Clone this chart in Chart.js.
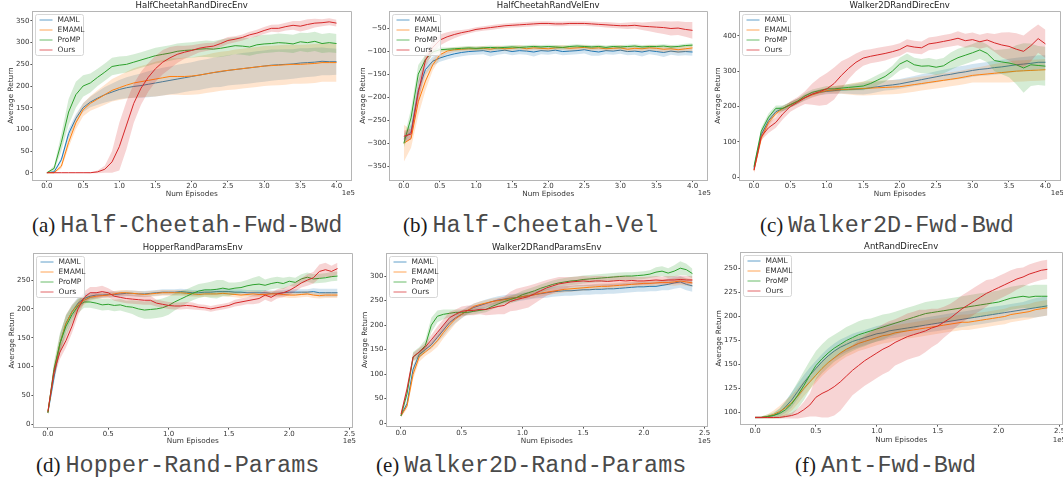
<!DOCTYPE html>
<html>
<head>
<meta charset="utf-8">
<script src="https://cdn.jsdelivr.net/npm/chart.js@4.4.1/dist/chart.umd.min.js"></script>
<style>
  html, body { margin: 0; padding: 0; background: #fff; width: 1063px; height: 486px; overflow: hidden; position: relative; }
  canvas { position: absolute; }
  .cap { position: absolute; white-space: nowrap; line-height: 28px; height: 28px; color: #1a1a1a; }
  .cap .lbl { font-family: "Liberation Serif", serif; font-size: 21px; margin-right: 5px; }
  .cap .mono { font-family: "Liberation Mono", monospace; font-size: 23.5px; color: #4a4a4a; }
</style>
</head>
<body>
<script>
// shared axes
const XA = [0.0,0.1,0.2,0.3,0.4,0.5,0.6,0.7,0.8,0.9,1.0,1.1,1.2,1.3,1.4,1.5,1.6,1.7,1.8,1.9,2.0,2.1,2.2,2.3,2.4,2.5,2.6,2.7,2.8,2.9,3.0,3.1,3.2,3.3,3.4,3.5,3.6,3.7,3.8,3.9,4.0];
const XB = [0.00,0.05,0.10,0.15,0.20,0.25,0.30,0.35,0.40,0.45,0.50,0.55,0.60,0.65,0.70,0.75,0.80,0.85,0.90,0.95,1.00,1.05,1.10,1.15,1.20,1.25,1.30,1.35,1.40,1.45,1.50,1.55,1.60,1.65,1.70,1.75,1.80,1.85,1.90,1.95,2.00,2.05,2.10,2.15,2.20,2.25,2.30,2.35,2.40];
const XTICKS_A = [0,0.5,1,1.5,2,2.5,3,3.5,4];
const XTICKS_B = [0,0.5,1,1.5,2,2.5];
const SERIES = ["MAML", "EMAML", "ProMP", "Ours"];

// (a) HalfCheetahRandDirecEnv
const aMaml    = [0,2,30,90,125,150,163,172,180,186, 192,196,199,201,204,207,210,213,216,219, 222,225,228,231,233,236,238,240,242,244, 246,248,249,250,251,253,254,255,257,256, 256];
const aMamlSd  = [0,2,6,10,10,10,12,15,18,20, 22,24,26,28,30,31,32,32,33,33, 33,34,34,34,35,35,35,36,36,36, 36,36,35,35,34,34,33,33,32,31, 30];
const aEmaml   = [0,0,15,70,115,145,160,170,180,190, 196,202,207,210,213,216,219,222,222,222, 223,225,228,231,234,236,238,240,242,244, 246,247,248,249,250,250,251,252,254,254, 254];
const aEmamlSd = [0,1,6,12,15,15,17,20,23,26, 28,31,34,36,38,40,41,42,42,43, 43,44,44,45,45,45,46,46,46,46, 46,46,46,46,45,45,45,45,44,44, 44];
const aPromp   = [0,10,70,140,180,200,207,220,232,245, 248,250,255,260,265,270,273,276,280,282, 283,285,286,285,287,290,293,292,290,295, 297,298,300,299,297,302,300,303,298,300, 298];
const aPrompSd = [0,6,20,30,30,25,22,20,20,20, 20,19,18,18,18,18,18,18,18,18, 18,18,19,19,20,20,20,20,20,21, 21,21,21,21,21,21,22,22,22,22, 22];
const aOurs    = [0,0,0,0,0,0,0,2,8,25, 60,110,160,195,220,240,255,265,273,278, 282,287,290,292,298,305,308,312,318,322, 328,333,333,337,340,338,342,345,346,348, 345];
const aOursSd  = [0,0,0,0,0,0,1,3,8,25, 55,55,45,38,33,30,28,25,20,15, 12,10,9,8,8,8,7,7,7,8, 8,8,9,9,10,12,12,10,8,8, 8];

// (b) HalfCheetahRandVelEnv
const bMaml    = [-290,-275,-185,-140,-122,-115,-110,-106,-103,-101, -100,-99,-102,-100,-98,-101,-99,-100,-102,-99, -100,-98,-101,-100,-99,-97,-100,-102,-99,-100, -98,-101,-100,-102,-99,-101,-103,-100,-102,-101, -102];
const bMamlSd  = [10,15,20,12,10,8,8,8,8,8, 8,8,10,8,8,8,8,8,10,8, 8,8,8,8,8,8,10,8,8,8, 8,8,8,10,8,8,10,8,8,8, 8];
const bEmaml   = [-300,-290,-210,-165,-130,-108,-100,-97,-96,-95, -95,-94,-96,-93,-95,-94,-92,-95,-93,-94, -95,-93,-92,-94,-93,-92,-94,-93,-95,-94, -93,-96,-94,-95,-93,-94,-96,-95,-97,-95, -93];
const bEmamlSd = [40,20,30,20,12,8,6,5,5,5, 5,5,5,5,5,5,5,5,5,5, 5,5,5,5,5,5,5,5,5,5, 6,6,6,6,6,6,7,7,7,7, 7];
const bPromp   = [-300,-245,-150,-118,-102,-97,-96,-95,-94,-93, -94,-93,-92,-93,-92,-91,-92,-91,-90,-91, -90,-91,-92,-90,-89,-90,-91,-90,-92,-90, -91,-90,-89,-91,-90,-90,-89,-91,-90,-88, -87];
const bPrompSd = [10,20,20,10,6,5,4,4,4,4, 4,4,4,4,4,4,4,4,4,4, 4,4,4,4,4,4,4,4,4,4, 4,4,4,4,4,4,4,4,4,4, 4];
const bOurs    = [-285,-280,-190,-120,-92,-76,-69,-64,-60,-57, -53,-51,-49,-47,-45,-44,-43,-42,-41,-40, -40,-41,-41,-40,-40,-40,-41,-42,-43,-44, -45,-45,-44,-46,-47,-48,-49,-51,-50,-53, -55];
const bOursSd  = [12,12,25,15,12,12,10,8,6,5, 5,5,5,5,5,5,5,5,5,5, 5,5,5,5,5,5,5,5,6,6, 6,7,7,8,10,12,14,15,15,16, 18];

// (c) Walker2DRandDirecEnv
const cMaml    = [25,120,160,185,195,205,215,225,235,240, 243,245,247,248,249,250,253,256,259,261, 264,268,272,276,280,284,288,291,295,298, 302,305,307,310,312,315,318,320,322,325, 325];
const cMamlSd  = [8,10,10,8,8,8,8,8,8,8, 8,9,10,12,14,16,16,15,14,14, 14,14,14,15,15,16,16,17,18,18, 18,18,19,20,20,20,20,20,20,20, 20];
const cEmaml   = [20,110,155,180,195,205,215,225,233,240, 245,247,248,249,250,251,252,253,254,255, 256,259,262,265,268,271,274,277,280,284, 288,290,292,294,296,298,300,301,302,303, 304];
const cEmamlSd = [8,10,10,8,8,8,8,8,8,8, 8,10,12,15,18,20,20,20,20,20, 20,20,20,20,20,20,20,20,20,20, 20,22,24,26,28,30,30,30,30,30, 30];
const cPromp   = [30,130,170,195,195,205,215,230,240,245, 250,250,252,254,256,258,265,275,285,300, 320,330,318,314,315,311,315,328,338,345, 352,360,350,330,326,323,318,309,318,316, 314];
const cPrompSd = [8,10,10,8,8,8,8,8,8,8, 8,8,8,10,10,12,14,15,15,15, 18,20,20,20,22,22,22,25,25,25, 25,25,25,30,35,40,55,70,60,55, 55];
const cOurs    = [20,115,140,155,180,200,212,225,235,242, 250,265,288,308,325,337,342,346,350,355, 361,372,368,366,377,380,384,388,393,386, 389,383,388,380,374,370,362,356,372,392, 377];
const cOursSd  = [8,10,15,15,15,15,15,18,30,40, 45,45,40,30,25,22,20,20,20,18, 18,18,18,18,18,18,18,18,20,20, 20,20,20,25,35,40,45,45,45,40, 40];

// (d) HopperRandParamsEnv
const dMaml    = [20,80,140,175,195,210,218,222,224,224, 225,225,226,227,227,226,226,227,228,229, 229,229,230,229,228,228,229,229,230,230, 230,229,229,228,228,228,228,227,227,228, 229,229,229,229,230,228,228,228,228];
const dMamlSd  = [5,10,15,15,12,10,8,6,5,5, 5,5,5,5,5,5,5,5,5,5, 5,5,5,5,5,5,5,5,5,5, 5,5,5,5,5,5,5,5,5,5, 5,5,5,5,6,7,7,7,7];
const dEmaml   = [20,90,140,175,195,208,215,220,222,223, 224,226,228,228,227,226,225,226,227,228, 228,228,228,227,226,225,226,226,226,227, 226,225,224,225,226,225,225,226,226,225, 224,224,225,226,224,223,224,224,224];
const dEmamlSd = [5,12,15,15,12,10,8,6,5,5, 5,5,5,5,5,5,5,5,5,5, 5,5,5,5,5,5,5,5,5,5, 5,5,5,5,5,5,5,5,5,5, 5,5,5,5,5,5,5,5,5];
const dPromp   = [20,95,140,170,190,205,212,212,210,207, 208,206,207,204,203,200,198,199,200,202, 206,212,217,222,227,231,233,233,234,236, 234,236,237,240,242,243,241,244,246,244, 248,246,252,255,252,253,254,256,257];
const dPrompSd = [5,12,18,18,15,12,10,10,10,10, 10,10,10,10,12,14,15,16,16,16, 16,15,14,12,12,12,12,14,16,14, 12,10,10,10,12,14,10,10,10,10, 8,8,8,8,8,8,8,8,8];
const dOurs    = [22,90,125,145,170,200,220,228,228,230, 228,222,220,218,217,216,215,215,210,208, 206,205,205,206,205,203,202,200,202,204, 206,210,212,214,216,218,224,220,226,228, 232,238,245,250,254,265,268,265,270];
const dOursSd  = [5,10,12,12,12,12,10,10,10,10, 8,8,8,8,8,8,8,8,6,6, 6,6,6,6,6,5,5,5,5,5, 5,6,6,6,8,8,8,8,8,8, 8,8,8,10,10,12,12,10,10];

// (e) Walker2DRandParamsEnv
const eMaml    = [15,40,110,140,150,160,175,190,205,215, 222,230,236,240,244,248,251,253,255,256, 258,260,262,264,266,268,269,270,270,271, 272,272,273,273,274,274,275,276,277,278, 278,279,279,281,283,286,288,283,280];
const eMamlSd  = [3,6,8,8,6,8,10,12,12,10, 8,8,8,8,8,8,8,8,8,8, 8,8,8,9,10,10,10,10,10,10, 10,10,10,10,10,10,10,10,10,10, 10,10,10,10,12,12,12,12,12];
const eEmaml   = [15,35,100,135,145,155,168,185,200,213, 222,230,238,242,245,248,250,252,254,256, 258,260,262,265,267,269,271,273,274,275, 276,277,278,279,279,280,281,282,283,284, 285,285,286,287,287,288,290,288,286];
const eEmamlSd = [3,6,10,10,8,10,12,12,12,10, 8,6,6,6,6,6,6,6,6,6, 6,6,6,6,6,6,6,6,6,6, 6,6,6,6,6,6,6,6,6,6, 6,6,6,6,6,8,8,8,8];
const ePromp   = [15,60,135,145,158,200,218,222,224,226, 226,226,228,230,232,238,243,248,252,256, 262,266,270,275,279,283,286,288,290,291, 293,294,295,296,297,298,299,300,300,301, 302,304,308,310,306,310,316,313,305];
const ePrompSd = [3,8,10,10,12,15,12,10,8,6, 6,6,6,6,6,6,6,6,8,8, 8,8,8,8,8,8,8,8,8,8, 8,8,8,8,8,8,8,8,8,8, 8,8,10,10,10,12,14,12,10];
const eOurs    = [18,70,135,145,155,170,185,200,215,222, 228,230,230,232,232,235,238,240,248,252, 255,258,264,270,276,280,284,286,288,289, 290,289,290,290,289,290,291,290,291,290, 290,291,292,291,292,292,293,292,292];
const eOursSd  = [3,8,8,8,8,10,12,12,12,10, 10,10,10,10,12,14,16,18,20,22, 22,22,20,18,16,15,14,12,10,10, 10,10,10,10,10,10,10,10,8,8, 8,8,8,8,8,8,8,8,8];

// (f) AntRandDirecEnv
const fMaml    = [95,95,96,97,100,106,113,122,131,139, 146,153,159,164,168,171,174,176,178,180, 182,183,185,186,187,188,189,190,191,192, 193,194,195,196,197,198,199,200,201,202, 203,204,205,206,207,208,209,210,211];
const fMamlSd  = [1,1,1,2,4,6,8,8,8,8, 8,8,8,8,8,8,8,8,8,8, 8,8,8,8,8,8,8,8,8,8, 8,8,8,8,8,8,8,8,8,8, 8,8,8,8,8,9,10,10,10];
const fEmaml   = [95,95,96,98,101,105,110,117,125,132, 139,146,152,157,162,166,169,172,174,176, 178,180,181,183,184,185,186,187,188,189, 190,191,192,193,194,194,195,196,197,198, 199,200,202,203,204,205,207,208,209];
const fEmamlSd = [1,1,2,4,6,8,8,8,8,8, 8,8,8,8,8,8,8,8,8,8, 8,8,8,8,8,8,8,8,8,8, 8,8,8,8,8,8,8,8,8,8, 8,8,8,8,8,8,8,8,8];
const fPromp   = [95,95,96,97,99,103,109,118,128,139, 149,156,162,167,171,175,178,181,183,185, 187,189,191,193,195,197,199,201,203,204, 205,206,207,208,209,210,211,212,213,214, 215,217,219,220,221,220,221,221,221];
const fPrompSd = [1,1,2,3,5,8,12,14,15,15, 15,15,15,14,14,14,14,14,14,13, 13,13,12,12,12,12,12,12,12,12, 12,12,12,12,12,12,12,12,12,12, 12,12,12,12,12,12,12,12,12];
const fOurs    = [95,95,95,95,95,96,97,99,103,108, 116,120,123,127,132,138,144,149,154,158, 162,166,169,173,176,179,181,183,185,188, 190,194,198,203,208,212,216,220,224,227, 230,233,236,239,241,244,246,248,249];
const fOursSd  = [1,1,1,1,1,2,3,5,8,12, 20,25,28,30,30,28,26,26,26,26, 26,26,26,24,24,24,24,24,22,20, 18,16,15,14,14,14,14,14,14,12, 12,12,12,11,10,10,10,10,10];

const COLORS = ["#1f77b4", "#ff7f0e", "#2ca02c", "#d62728"];
const BANDS = ["rgba(31,119,180,0.2)", "rgba(255,127,14,0.2)", "rgba(44,160,44,0.2)", "rgba(214,39,40,0.2)"];
const FONT = "DejaVu Sans";

// layout: box = chart area [left, top, right, bottom] in page pixels
const panels = [
  { title: "HalfCheetahRandDirecEnv", tag: "(a)", caption: "Half-Cheetah-Fwd-Bwd", capX: 32, capY: 225,
    box: [32, 11, 351, 180], yTitleX: 11, xTitleY: 193.5, x: XA, xMin: -0.2, xMax: 4.2, xTicks: XTICKS_A,
    yMin: -17, yMax: 373, yTicks: [0,50,100,150,200,250,300,350],
    mean: [aMaml, aEmaml, aPromp, aOurs], sd: [aMamlSd, aEmamlSd, aPrompSd, aOursSd] },
  { title: "HalfCheetahRandVelEnv", tag: "(b)", caption: "Half-Cheetah-Vel", capX: 403, capY: 225,
    box: [389, 11, 707, 180], yTitleX: 363, xTitleY: 193.5, x: XA, xMin: -0.2, xMax: 4.2, xTicks: XTICKS_A,
    yMin: -380, yMax: -13, yTicks: [-350,-300,-250,-200,-150,-100,-50],
    mean: [bMaml, bEmaml, bPromp, bOurs], sd: [bMamlSd, bEmamlSd, bPrompSd, bOursSd] },
  { title: "Walker2DRandDirecEnv", tag: "(c)", caption: "Walker2D-Fwd-Bwd", capX: 760, capY: 225,
    box: [739, 11, 1060, 180], yTitleX: 718, xTitleY: 193.5, x: XA, xMin: -0.2, xMax: 4.2, xTicks: XTICKS_A,
    yMin: -8, yMax: 470, yTicks: [0,100,200,300,400],
    mean: [cMaml, cEmaml, cPromp, cOurs], sd: [cMamlSd, cEmamlSd, cPrompSd, cOursSd] },
  { title: "HopperRandParamsEnv", tag: "(d)", caption: "Hopper-Rand-Params", capX: 36, capY: 465,
    box: [33, 253, 352, 428], yTitleX: 12, xTitleY: 441, x: XB, xMin: -0.12, xMax: 2.52, xTicks: XTICKS_B,
    yMin: -6, yMax: 297, yTicks: [0,50,100,150,200,250],
    mean: [dMaml, dEmaml, dPromp, dOurs], sd: [dMamlSd, dEmamlSd, dPrompSd, dOursSd] },
  { title: "Walker2DRandParamsEnv", tag: "(e)", caption: "Walker2D-Rand-Params", capX: 376, capY: 465,
    box: [386, 253, 707, 427], yTitleX: 365, xTitleY: 441, x: XB, xMin: -0.12, xMax: 2.52, xTicks: XTICKS_B,
    yMin: -7, yMax: 347, yTicks: [0,50,100,150,200,250,300],
    mean: [eMaml, eEmaml, ePromp, eOurs], sd: [eMamlSd, eEmamlSd, ePrompSd, eOursSd] },
  { title: "AntRandDirecEnv", tag: "(f)", caption: "Ant-Fwd-Bwd", capX: 795, capY: 465,
    box: [740, 252, 1062, 425], yTitleX: 719, xTitleY: 440, x: XB, xMin: -0.12, xMax: 2.52, xTicks: XTICKS_B,
    yMin: 87.6, yMax: 267, yTicks: [100,125,150,175,200,225,250],
    mean: [fMaml, fEmaml, fPromp, fOurs], sd: [fMamlSd, fEmamlSd, fPrompSd, fOursSd] },
];

const fmtY = v => (v < 0 ? "\u2212" + Math.abs(v) : String(v));

// title, top/right spines, 1e5 offset label and the legend box
const decor = {
  id: "decor",
  afterDatasetsDraw(chart, args, opts) {
    const { ctx, chartArea: a } = chart;
    const items = chart.data.datasets.filter(d => d.label);
    const x0 = Math.round(a.left) + 3.5, y0 = Math.round(a.top) + 3.5, w = 48, h = 41;
    ctx.save();
    ctx.fillStyle = "rgba(255,255,255,0.8)";
    ctx.strokeStyle = "#d6d6d6";
    ctx.lineWidth = 1;
    ctx.beginPath();
    ctx.roundRect(x0, y0, w, h, 2);
    ctx.fill();
    ctx.stroke();
    ctx.font = `7.5px "${FONT}"`;
    ctx.textBaseline = "middle";
    items.forEach((d, i) => {
      const y = y0 + 5.5 + i * 10;
      ctx.globalAlpha = 0.7;
      ctx.strokeStyle = d.borderColor;
      ctx.beginPath();
      ctx.moveTo(x0 + 4, y);
      ctx.lineTo(x0 + 17, y);
      ctx.stroke();
      ctx.globalAlpha = 1;
      ctx.fillStyle = "#333";
      ctx.fillText(d.label, x0 + 22, y);
    });
    ctx.restore();
  },
  afterDraw(chart, args, opts) {
    const { ctx, chartArea: a } = chart;
    ctx.save();
    ctx.strokeStyle = "#b5b5b5";
    ctx.lineWidth = 1;
    ctx.beginPath();
    ctx.moveTo(Math.round(a.left), Math.round(a.top) + 0.5);
    ctx.lineTo(Math.round(a.right) + 0.5, Math.round(a.top) + 0.5);
    ctx.lineTo(Math.round(a.right) + 0.5, Math.round(a.bottom));
    ctx.stroke();
    ctx.fillStyle = "#222";
    ctx.textAlign = "center";
    ctx.textBaseline = "middle";
    ctx.font = `8.5px "${FONT}"`;
    ctx.fillText(opts.title, (a.left + a.right) / 2, a.top - 5);
    ctx.fillStyle = "#333";
    ctx.textAlign = "right";
    ctx.font = `7px "${FONT}"`;
    ctx.fillText("1e5", a.right + 4, opts.offsetY);
    ctx.restore();
  }
};

panels.forEach(p => {
  const [L, T, R, B] = p.box;
  const padT = 12, padR = 6;
  const left = p.yTitleX - 4.4;
  const padL = L - left;
  const padB = p.xTitleY - B + 4.4;
  const w = Math.round(R - left + padR), h = Math.round(B - T + padT + padB);
  const cv = document.createElement("canvas");
  cv.width = w; cv.height = h;
  cv.style.left = left + "px";
  cv.style.top = (T - padT) + "px";
  cv.style.width = w + "px";
  cv.style.height = h + "px";
  document.body.appendChild(cv);

  const datasets = [];
  let ord = 100;
  p.mean.forEach((m, i) => {
    const s = p.sd[i];
    datasets.push({ data: p.x.map((x, j) => ({ x, y: m[j] + s[j] })), fill: "+1", backgroundColor: BANDS[i],
      borderWidth: 0, pointRadius: 0, order: ord-- });
    datasets.push({ data: p.x.map((x, j) => ({ x, y: m[j] - s[j] })), fill: false,
      borderWidth: 0, pointRadius: 0, order: ord-- });
    datasets.push({ label: SERIES[i], data: p.x.map((x, j) => ({ x, y: m[j] })), borderColor: COLORS[i],
      borderWidth: 1, pointRadius: 0, fill: false, tension: 0, order: ord-- });
  });

  const tickFont = { family: FONT, size: 7 };
  const titleFont = { family: FONT, size: 7.3 };

  new Chart(cv, {
    type: "line",
    data: { datasets },
    plugins: [decor],
    options: {
      responsive: false,
      animation: false,
      events: [],
      layout: { padding: { left: 0, top: padT, right: padR, bottom: 0 } },
      plugins: {
        legend: { display: false },
        tooltip: { enabled: false },
        decor: { title: p.title, offsetY: p.xTitleY - (T - padT) }
      },
      scales: {
        x: {
          type: "linear", min: p.xMin, max: p.xMax,
          afterBuildTicks: s => { s.ticks = p.xTicks.map(v => ({ value: v })); },
          afterFit: s => { s.height = padB; },
          ticks: { font: tickFont, color: "#333", padding: 0, maxRotation: 0, autoSkip: false,
                   callback: v => Number(v).toFixed(1) },
          grid: { drawOnChartArea: false, drawTicks: true, tickLength: 2, color: "#555" },
          border: { display: true, color: "#b5b5b5" },
          title: { display: true, text: "Num Episodes", font: titleFont, color: "#333", padding: 0 }
        },
        y: {
          type: "linear", min: p.yMin, max: p.yMax,
          afterBuildTicks: s => { s.ticks = p.yTicks.map(v => ({ value: v })); },
          afterFit: s => { s.width = padL; },
          ticks: { font: tickFont, color: "#333", padding: 1, autoSkip: false, callback: v => fmtY(v) },
          grid: { drawOnChartArea: false, drawTicks: true, tickLength: 2, color: "#555" },
          border: { display: true, color: "#b5b5b5" },
          title: { display: true, text: "Average Return", font: titleFont, color: "#333", padding: 0 }
        }
      }
    }
  });

  const cap = document.createElement("div");
  cap.className = "cap";
  cap.style.left = p.capX + "px";
  cap.style.top = (p.capY - 14) + "px";
  const tag = document.createElement("span");
  tag.className = "lbl";
  tag.textContent = p.tag;
  const name = document.createElement("span");
  name.className = "mono";
  name.textContent = p.caption;
  cap.appendChild(tag);
  cap.appendChild(name);
  document.body.appendChild(cap);
});
</script>
</body>
</html>
